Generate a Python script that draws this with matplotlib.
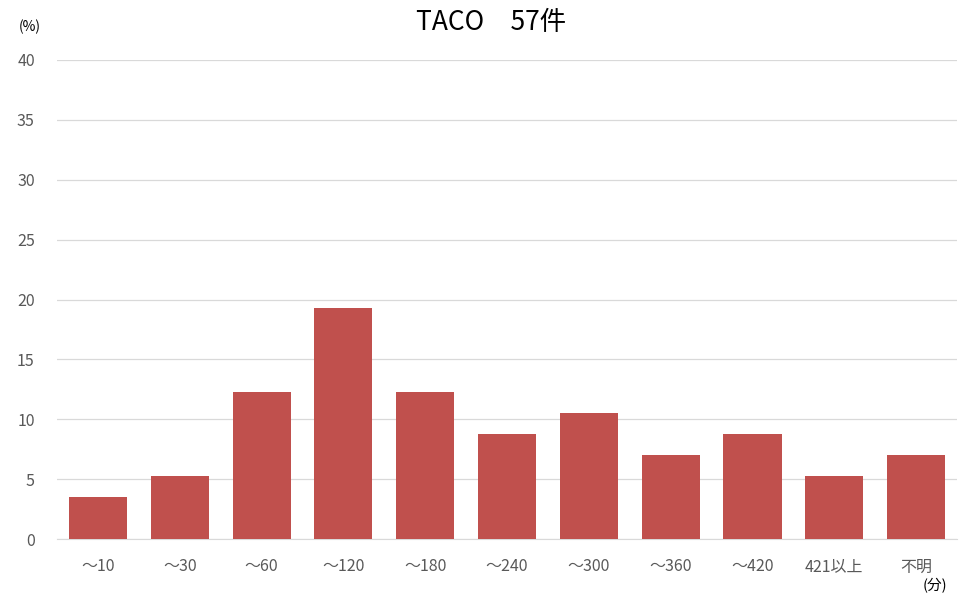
import matplotlib
matplotlib.use("Agg")
from matplotlib import pyplot as plt

plt.rcParams['font.family'] = ['Noto Sans CJK JP', 'DejaVu Sans']

categories = ["～10", "～30", "～60", "～120", "～180", "～240", "～300", "～360", "～420", "421以上", "不明"]
counts = [2, 3, 7, 11, 7, 5, 6, 4, 5, 3, 4]
total = 57
percent = [c / total * 100 for c in counts]

fig = plt.figure(figsize=(9.72, 6.06), dpi=100)
ax = fig.add_axes((57/972, 67/606, 900/972, 479/606))

x = range(len(categories))
ax.bar(x, percent, width=0.71, color="#c0504d", zorder=3)

ax.set_xlim(-0.5, len(categories) - 0.5)
ax.set_ylim(0, 40)
ax.set_yticks(range(0, 41, 5))
ax.set_xticks(list(x))
ax.set_xticklabels(categories)
ax.grid(axis="y", color="#d9d9d9", lw=0.9, zorder=0)
for s in ["top", "right", "left"]:
    ax.spines[s].set_visible(False)
ax.spines["bottom"].set_color("#d9d9d9")
ax.tick_params(axis="both", length=0, labelsize=11.5, colors="#595959")
ax.tick_params(axis="x", pad=14)
ax.tick_params(axis="y", pad=16)

fig.text(491/972, 1 - 22/606, "TACO　57件", ha="center", va="center", fontsize=19, color="black")
fig.text(30/972, 1 - 27/606, "(%)", ha="center", va="center", fontsize=10, color="black")
fig.text(935/972, 1 - 586/606, "(分)", ha="center", va="center", fontsize=10.5, color="black")

fig.savefig("out.png", dpi=100)
